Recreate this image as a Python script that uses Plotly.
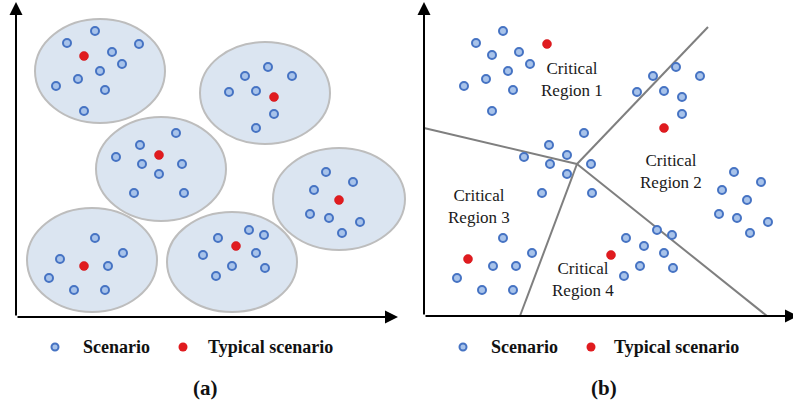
import plotly.graph_objects as go

# ---------------- panel (a): scenario clusters inside ellipses ----------------
ellipse_cx = [100, 265, 161, 339, 92, 232]
ellipse_cy = [71, 93, 169, 199, 260, 262]
ellipse_rx = [65, 65, 65, 66, 65, 65]
ellipse_ry = [52, 51, 52, 51, 52, 50]

a_scen_x = [95, 67, 139, 112, 122, 100, 78, 56, 105, 84,
            268, 245, 292, 229, 256, 274, 256,
            176, 140, 116, 142, 182, 159, 134, 184,
            326, 353, 314, 310, 329, 360, 342,
            95, 60, 123, 108, 49, 74, 105,
            249, 218, 264, 203, 256, 232, 265, 216]
a_scen_y = [31, 43, 44, 52, 64, 71, 79, 86, 90, 111,
            67, 76, 76, 92, 91, 114, 128,
            133, 145, 157, 164, 164, 174, 193, 193,
            172, 182, 190, 214, 218, 222, 233,
            238, 259, 253, 266, 278, 290, 290,
            230, 238, 235, 255, 253, 266, 268, 276]
a_typ_x = [84, 274, 159, 339, 84, 236]
a_typ_y = [56, 97, 155, 200, 266, 246]

# ---------------- panel (b): critical regions ----------------
b_scen_x = [503, 476, 492, 519, 530, 508, 486, 464, 513, 492,
            676, 653, 700, 637, 664, 682, 682,
            584, 549, 524, 567, 550, 591, 567, 542, 592,
            734, 761, 722, 747, 719, 737, 768, 750,
            503, 532, 493, 516, 457, 482, 513,
            657, 626, 672, 644, 664, 640, 673, 624]
b_scen_y = [31, 43, 55, 52, 64, 71, 79, 86, 90, 111,
            67, 76, 76, 92, 91, 97, 114,
            133, 145, 157, 155, 164, 164, 174, 193, 193,
            172, 182, 190, 200, 214, 218, 222, 233,
            238, 253, 266, 266, 278, 290, 290,
            230, 238, 235, 246, 253, 266, 268, 276]
b_typ_x = [547, 664, 468, 611]
b_typ_y = [44, 128, 259, 255]

# region boundaries: all meet at one junction point
junction = (577, 164)
boundary_end_x = [424, 708, 520, 767]
boundary_end_y = [128, 27, 316, 316]

region_labels = ["Critical<br>Region 1", "Critical<br>Region 2",
                 "Critical<br>Region 3", "Critical<br>Region 4"]
region_label_x = [572, 671, 479, 583]
region_label_y = [79, 171, 206, 279]

# legend rows and panel captions
legend_names = ["Scenario", "Typical scenario"]
legend_marker_x = [[55, 183], [463, 591]]
legend_text_x = [[81, 206], [489, 612]]
legend_y = 347
captions = ["(a)", "(b)"]
caption_x = [205, 604]
caption_y = 388

# axes of each panel: (origin x, origin y, x tip, y tip)
panel_axes = [(16, 317, 398, 2), (424, 316, 798, 2)]

SERIF = "Liberation Serif, Times New Roman, serif"
BLUE_FILL = "#a8c3ea"
BLUE_EDGE = "#4673c3"
RED = "#e01b1f"

scen_marker = dict(size=8, color=BLUE_FILL, line=dict(color=BLUE_EDGE, width=2))
typ_marker = dict(size=9, color=RED, line=dict(color="#d01016", width=0.5))

fig = go.Figure()

# ellipses behind the points
shapes = []
for cx, cy, rx, ry in zip(ellipse_cx, ellipse_cy, ellipse_rx, ellipse_ry):
    shapes.append(dict(type="circle", xref="x", yref="y",
                       x0=cx - rx, x1=cx + rx, y0=cy - ry, y1=cy + ry,
                       fillcolor="#dbe5f1", line=dict(color="#bdbdbd", width=2),
                       layer="below"))

# boundary lines of the critical regions
for ex, ey in zip(boundary_end_x, boundary_end_y):
    fig.add_trace(go.Scatter(x=[junction[0], ex], y=[junction[1], ey], mode="lines",
                             line=dict(color="#7f7f7f", width=2),
                             hoverinfo="skip", showlegend=False))

fig.add_trace(go.Scatter(x=a_scen_x, y=a_scen_y, mode="markers",
                         marker=scen_marker, showlegend=False))
fig.add_trace(go.Scatter(x=a_typ_x, y=a_typ_y, mode="markers",
                         marker=typ_marker, showlegend=False))
fig.add_trace(go.Scatter(x=b_scen_x, y=b_scen_y, mode="markers",
                         marker=scen_marker, showlegend=False))
fig.add_trace(go.Scatter(x=b_typ_x, y=b_typ_y, mode="markers",
                         marker=typ_marker, showlegend=False))

# legend rows under each panel
for mx, tx in zip(legend_marker_x, legend_text_x):
    fig.add_trace(go.Scatter(x=[mx[0]], y=[legend_y], mode="markers",
                             marker=dict(size=7, color=BLUE_FILL,
                                         line=dict(color=BLUE_EDGE, width=2)),
                             showlegend=False, hoverinfo="skip"))
    fig.add_trace(go.Scatter(x=[mx[1]], y=[legend_y], mode="markers",
                             marker=dict(size=9, color=RED),
                             showlegend=False, hoverinfo="skip"))

annotations = []
for name_i, name in enumerate(legend_names):
    for tx in legend_text_x:
        annotations.append(dict(x=tx[name_i], y=legend_y, xref="x", yref="y",
                                text="<b>%s</b>" % name, showarrow=False,
                                xanchor="left", yanchor="middle",
                                font=dict(family=SERIF, size=18, color="#111111")))

for cap, cx in zip(captions, caption_x):
    annotations.append(dict(x=cx, y=caption_y, xref="x", yref="y",
                            text="<b>%s</b>" % cap, showarrow=False,
                            xanchor="center", yanchor="middle",
                            font=dict(family=SERIF, size=21, color="#111111")))

for lab, lx, ly in zip(region_labels, region_label_x, region_label_y):
    annotations.append(dict(x=lx, y=ly, xref="x", yref="y", text=lab,
                            showarrow=False, xanchor="center", yanchor="middle",
                            font=dict(family=SERIF, size=17, color="#1a1a1a")))

# coordinate axes drawn as arrows
for ox, oy, xt, yt in panel_axes:
    annotations.append(dict(x=ox, y=yt, ax=ox, ay=oy, xref="x", yref="y",
                            axref="x", ayref="y", text="", showarrow=True,
                            arrowhead=2, arrowsize=1.3, arrowwidth=2,
                            arrowcolor="#000000"))
    annotations.append(dict(x=xt, y=oy, ax=ox, ay=oy, xref="x", yref="y",
                            axref="x", ayref="y", text="", showarrow=True,
                            arrowhead=2, arrowsize=1.3, arrowwidth=2,
                            arrowcolor="#000000"))

fig.update_layout(
    width=793, height=406,
    margin=dict(l=0, r=0, t=0, b=0),
    paper_bgcolor="white", plot_bgcolor="white",
    xaxis=dict(range=[0, 793], visible=False, fixedrange=True),
    yaxis=dict(range=[406, 0], visible=False, fixedrange=True),
    shapes=shapes, annotations=annotations,
    showlegend=False,
)

fig.write_html("out.html")
